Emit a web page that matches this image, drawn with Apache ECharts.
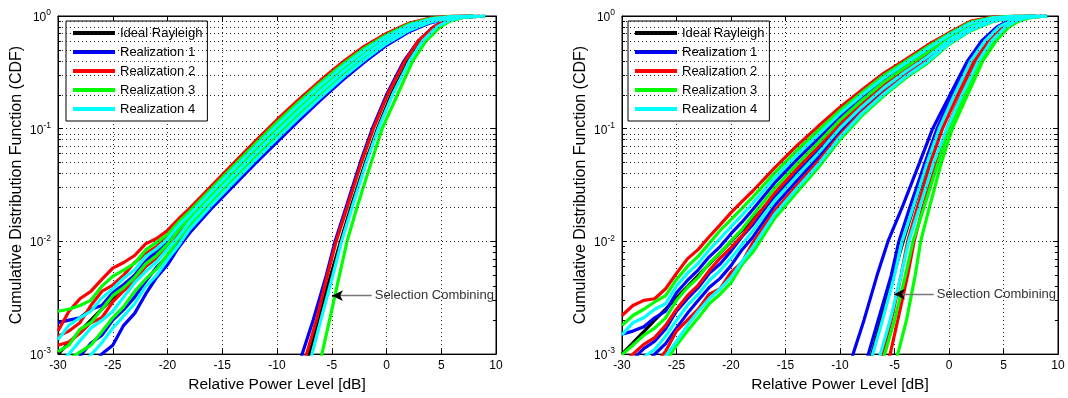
<!DOCTYPE html>
<html><head><meta charset="utf-8">
<script src="https://cdn.jsdelivr.net/npm/echarts@6/dist/echarts.min.js"></script>
<style>html,body{margin:0;padding:0;background:#fff;}#c{width:1068px;height:398px;}</style>
</head><body><div id="c"></div>
<script>
// ---------------- DATA ----------------
const seriesNames = ['Ideal Rayleigh','Realization 1','Realization 2','Realization 3','Realization 4'];
const xGrid = [-30,-29,-28,-27,-26,-25,-24,-23,-22,-21,-20,-19,-18,-16,-14,-12,-10,-8,-6,-4,-2,0,2,4,6,8];   // dB
const scLevels = [0.0005,0.001,0.002,0.005,0.01,0.02,0.05,0.1,0.2,0.4,0.6,0.8,0.9,0.97,1.0]; // CDF levels (selection combining)
const minorLevels = [0.002,0.003,0.004,0.005,0.006,0.007,0.008,0.009,0.02,0.03,0.04,0.05,0.06,0.07,0.08,0.09,0.2,0.3,0.4,0.5,0.6,0.7,0.8,0.9];

// Ideal Rayleigh (CDF at xGrid) and ideal selection combining (dB at scLevels)
const idealSingle = [0.001,0.00126,0.00158,0.002,0.00251,0.00316,0.00397,0.005,0.00629,0.00791,0.00995,0.0125,0.0157,0.0248,0.039,0.0612,0.0952,0.146,0.222,0.328,0.467,0.632,0.795,0.919,0.981,0.998];
const idealSC = [-7.9,-7.08,-6.24,-5.10,-4.20,-3.26,-1.94,-0.83,0.43,2.00,3.27,4.64,5.62,6.88,9.0];

// ---- Left panel: single-branch CDFs (values at xGrid) ----
const leftR1 = [ // blue
  [0.0019,0.0020,0.0021,0.0025,0.0027,0.0035,0.00415,0.0050,0.00663,0.0083,0.0098,0.0124,0.0164,0.0264,0.0417,0.0656,0.1023,0.1563,0.234,0.343,0.482,0.643,0.808,0.928,0.986,1.0],
  [0.0006,0.0007,0.00096,0.00125,0.00147,0.0020,0.00248,0.0032,0.0044,0.0059,0.0074,0.0096,0.0134,0.0219,0.0348,0.0548,0.0851,0.1315,0.199,0.296,0.423,0.583,0.752,0.892,0.970,1.0],
  [0.0004,0.00055,0.00065,0.00075,0.001,0.0012,0.0018,0.0023,0.0034,0.0048,0.0062,0.0088,0.0118,0.0195,0.031,0.049,0.076,0.118,0.18,0.27,0.39,0.55,0.72,0.87,0.96,1.0]
];
const leftR2 = [ // red
  [0.0016,0.0024,0.0031,0.0036,0.0046,0.0058,0.0065,0.0075,0.0095,0.0106,0.0125,0.0158,0.0195,0.031,0.049,0.077,0.12,0.182,0.27,0.39,0.54,0.70,0.86,0.96,1.0,1.0],
  [0.00145,0.0016,0.0019,0.0027,0.0036,0.0041,0.00502,0.0065,0.00774,0.0090,0.0109,0.0142,0.0176,0.0282,0.0447,0.0703,0.1094,0.1669,0.249,0.362,0.506,0.667,0.830,0.941,0.992,1.0],
  [0.0012,0.00128,0.00153,0.0019,0.0021,0.0029,0.00365,0.0044,0.00598,0.0071,0.0091,0.0117,0.0156,0.0252,0.0398,0.0628,0.0977,0.1496,0.225,0.330,0.467,0.628,0.794,0.918,0.982,1.0]
];
const leftR3 = [ // green
  [0.0024,0.0025,0.0027,0.0030,0.0040,0.0049,0.00557,0.0064,0.0084,0.0098,0.0115,0.0148,0.0184,0.0293,0.0464,0.0728,0.1135,0.1727,0.257,0.373,0.519,0.680,0.842,0.949,0.995,1.0],
  [0.00105,0.0012,0.00166,0.0019,0.0025,0.0033,0.00389,0.0048,0.0063,0.0075,0.0094,0.0125,0.016,0.0258,0.0408,0.0643,0.100,0.1531,0.230,0.337,0.474,0.635,0.801,0.923,0.984,1.0],
  [0.00065,0.0009,0.00104,0.0012,0.00158,0.0021,0.00264,0.0036,0.00462,0.0057,0.0076,0.0104,0.0137,0.0224,0.0356,0.0561,0.0871,0.1343,0.203,0.301,0.430,0.590,0.759,0.896,0.972,1.0]
];
const leftR4 = [ // cyan
  [0.00134,0.0018,0.0021,0.0024,0.00314,0.0038,0.00471,0.0056,0.00735,0.0086,0.0105,0.0138,0.0172,0.0276,0.0437,0.0687,0.1069,0.1633,0.244,0.356,0.498,0.659,0.822,0.937,0.990,1.0],
  [0.00083,0.0010,0.00131,0.0017,0.00199,0.0024,0.00321,0.0043,0.0054,0.0066,0.0085,0.0110,0.0148,0.024,0.0381,0.06,0.0933,0.1435,0.216,0.318,0.451,0.612,0.780,0.909,0.978,1.0],
  [0.00051,0.00062,0.00082,0.00098,0.00126,0.0017,0.00218,0.0028,0.00396,0.0050,0.0069,0.0092,0.0127,0.0209,0.0332,0.0524,0.0815,0.1259,0.191,0.285,0.409,0.570,0.739,0.883,0.966,1.0]
];
// ---- Left panel: selection combining (dB at scLevels) ----
const leftR1SC = [[-8.5,-7.7,-6.7,-5.5,-4.7,-3.7,-2.4,-1.3,0.0,1.6,2.9,4.3,5.3,6.6,8.5]];
const leftR2SC = [[-8.1,-7.3,-6.4,-5.4,-4.6,-3.6,-2.3,-1.2,0.1,1.7,2.9,4.3,5.3,6.6,8.5]];
const leftR3SC = [[-6.6,-5.9,-5.2,-4.3,-3.6,-2.7,-1.4,-0.4,1.0,2.4,3.6,4.9,5.8,7.0,9.0]];
const leftR4SC = [[-7.5,-6.8,-6.0,-4.9,-4.1,-3.15,-1.85,-0.75,0.55,2.1,3.3,4.6,5.6,6.8,9.0]];

// ---- Right panel: single-branch CDFs (values at xGrid) ----
const rightR1 = [ // blue
  [0.0015,0.0016,0.00175,0.0021,0.0024,0.0035,0.0045,0.0056,0.0073,0.0090,0.0117,0.0148,0.0192,0.033,0.0526,0.0814,0.127,0.188,0.270,0.366,0.492,0.661,0.848,0.951,0.991,1.0],
  [0.00073,0.0009,0.00112,0.0013,0.00167,0.0024,0.0031,0.0039,0.0052,0.0063,0.0082,0.0110,0.0141,0.0255,0.0414,0.0659,0.108,0.165,0.240,0.333,0.449,0.622,0.807,0.929,0.984,1.0],
  [0.00049,0.00058,0.00078,0.0010,0.00124,0.0017,0.0023,0.0030,0.0039,0.0047,0.0061,0.0084,0.0109,0.0207,0.0342,0.0556,0.0944,0.148,0.219,0.308,0.417,0.594,0.777,0.911,0.978,1.0]
];
const rightR2 = [ // red
  [0.0022,0.0027,0.0030,0.0031,0.0038,0.0052,0.0070,0.0085,0.011,0.0140,0.018,0.0225,0.028,0.045,0.070,0.105,0.155,0.22,0.31,0.41,0.55,0.71,0.90,0.98,1.0,1.0],
  [0.00081,0.0010,0.00122,0.0014,0.0018,0.0025,0.0033,0.0041,0.0055,0.0071,0.0088,0.0112,0.015,0.0268,0.0435,0.0687,0.111,0.169,0.246,0.339,0.457,0.630,0.816,0.933,0.985,1.0],
  [0.0004,0.0005,0.00065,0.0008,0.00106,0.0016,0.0020,0.0025,0.0034,0.0038,0.0053,0.0065,0.0097,0.0187,0.0311,0.0511,0.0883,0.141,0.209,0.296,0.402,0.580,0.762,0.902,0.975,1.0]
];
const rightR3 = [ // green
  [0.0018,0.0022,0.0025,0.0029,0.0033,0.0046,0.0060,0.0074,0.0096,0.0125,0.0156,0.0196,0.0247,0.0406,0.0637,0.0964,0.145,0.208,0.296,0.395,0.530,0.693,0.882,0.970,0.997,1.0],
  [0.00099,0.0012,0.00147,0.0017,0.0021,0.0030,0.0039,0.0048,0.0064,0.0079,0.0101,0.0128,0.0170,0.0297,0.0478,0.0748,0.119,0.178,0.258,0.352,0.474,0.645,0.832,0.942,0.988,1.0],
  [0.0003,0.0004,0.0005,0.00065,0.00085,0.0012,0.0016,0.0021,0.0028,0.0034,0.0043,0.0062,0.0080,0.016,0.027,0.045,0.080,0.13,0.195,0.28,0.38,0.56,0.74,0.89,0.97,1.0]
];
const rightR4 = [ // cyan
  [0.00148,0.0019,0.0021,0.0025,0.0028,0.0040,0.0052,0.0064,0.0084,0.0106,0.0135,0.0170,0.0218,0.0366,0.0578,0.0885,0.136,0.198,0.282,0.380,0.511,0.677,0.865,0.961,0.994,1.0],
  [0.0006,0.00078,0.00094,0.0011,0.00144,0.0020,0.0027,0.0034,0.0045,0.0055,0.0071,0.0094,0.0124,0.023,0.0377,0.0605,0.101,0.156,0.229,0.320,0.433,0.608,0.792,0.920,0.981,1.0],
  [0.00035,0.00045,0.00058,0.00075,0.00096,0.0013,0.0018,0.0024,0.0031,0.0038,0.0048,0.0066,0.0089,0.0174,0.0291,0.0481,0.0843,0.136,0.202,0.289,0.392,0.570,0.751,0.896,0.973,1.0]
];
// ---- Right panel: selection combining (dB at scLevels) ----
const rightR1SC = [
  [-9.6,-8.8,-7.8,-6.6,-5.6,-4.3,-2.7,-1.5,0.1,1.7,3.0,4.4,5.4,6.6,8.5],
  [-8.2,-7.4,-6.5,-5.3,-4.6,-3.6,-2.2,-1.1,0.3,1.9,3.1,4.5,5.5,6.7,8.5]
];
const rightR2SC = [
  [-6.8,-6.1,-5.3,-4.4,-3.8,-2.9,-1.7,-0.6,0.8,2.3,3.5,4.8,5.8,7.0,9.0],
  [-6.1,-5.4,-4.7,-3.8,-3.2,-2.4,-1.2,-0.2,1.1,2.5,3.7,5.0,6.0,7.2,9.0]
];
const rightR3SC = [
  [-6.6,-5.9,-5.0,-4.0,-3.3,-2.3,-1.0,0.0,1.4,2.8,4.0,5.3,6.2,7.4,9.0],
  [-5.4,-4.7,-3.9,-3.1,-2.6,-1.8,-0.7,0.3,1.7,3.1,4.3,5.5,6.4,7.5,9.0]
];
const rightR4SC = [
  [-7.8,-7.0,-6.1,-5.0,-4.3,-3.3,-2.0,-0.9,0.5,2.0,3.3,4.6,5.6,6.8,9.0],
  [-7.0,-6.3,-5.4,-4.4,-3.7,-2.7,-1.4,-0.2,1.2,2.7,3.9,5.2,6.1,7.2,9.0]
];

// ---------------- CHART ----------------
const FONT = '"Liberation Sans", Arial, Helvetica, sans-serif';
const COLORS = ['#000000','#0000ff','#ff0000','#00ff00','#00ffff'];
const chart = echarts.init(document.getElementById('c'), null, {renderer:'canvas'});

const grids = [
  {left:58, top:16, width:438, height:339},
  {left:622, top:16, width:436, height:339}
];
const dotted = {color:'#222', type:[1,3], width:1};

const xAxes = [], yAxes = [];
grids.forEach((g, gi) => {
  xAxes.push({gridIndex:gi, type:'value', min:-30, max:10, interval:5, position:'bottom',
    axisLine:{show:true, onZero:false, lineStyle:{color:'#000', width:1}},
    axisTick:{show:true, inside:true, length:5, lineStyle:{color:'#000'}},
    axisLabel:{color:'#000', fontSize:12, fontFamily:FONT, margin:6},
    splitLine:{show:true, lineStyle:dotted},
    name:'Relative Power Level [dB]', nameLocation:'middle', nameGap:20,
    nameTextStyle:{color:'#000', fontSize:15.5, fontFamily:FONT}});
  xAxes.push({gridIndex:gi, type:'value', min:-30, max:10, interval:5, position:'top',
    axisLine:{show:true, onZero:false, lineStyle:{color:'#000', width:1}},
    axisTick:{show:true, inside:true, length:5, lineStyle:{color:'#000'}},
    axisLabel:{show:false}, splitLine:{show:false}});
  yAxes.push({gridIndex:gi, type:'log', logBase:10, min:0.001, max:1, position:'left',
    axisLine:{show:true, onZero:false, lineStyle:{color:'#000', width:1}},
    axisTick:{show:true, inside:true, length:5, lineStyle:{color:'#000'}},
    axisLabel:{color:'#000', fontFamily:FONT, margin:7,
      formatter: v => '{b|10}{s|' + Math.round(Math.log10(v)) + '}',
      rich:{ b:{fontSize:12, fontFamily:FONT, color:'#000', verticalAlign:'bottom'},
             s:{fontSize:8.5, fontFamily:FONT, color:'#000', verticalAlign:'bottom', padding:[0,0,6,0]} }},
    splitLine:{show:true, lineStyle:dotted},
    name:'Cumulative Distribution Function (CDF)', nameLocation:'middle', nameGap:33, nameRotate:90,
    nameTextStyle:{color:'#000', fontSize:16, fontFamily:FONT}});
  yAxes.push({gridIndex:gi, type:'log', logBase:10, min:0.001, max:1, position:'right',
    axisLine:{show:true, onZero:false, lineStyle:{color:'#000', width:1}},
    axisTick:{show:true, inside:true, length:5, lineStyle:{color:'#000'}},
    axisLabel:{show:false}, splitLine:{show:false}});
});

const series = [];
const LW = 3.2;
const common = {type:'line', showSymbol:false, symbol:'none', smooth:false, animation:false,
  emphasis:{disabled:true}, silent:true, clip:true};

function helperGrid(gi) {
  const xi = gi*2, yi = gi*2;
  const minorLines = minorLevels.map(v => ({yAxis:v}));
  const tickSegs = [];
  minorLevels.forEach(v => {
    tickSegs.push([{coord:[-30, v]}, {coord:[-29.72, v]}]);
    tickSegs.push([{coord:[9.72, v]}, {coord:[10, v]}]);
  });
  series.push(Object.assign({}, common, {name:'_grid'+gi, xAxisIndex:xi, yAxisIndex:yi, data:[],
    lineStyle:{width:0},
    markLine:{silent:true, symbol:['none','none'], label:{show:false}, animation:false,
      lineStyle:dotted, data:minorLines}}));
  series.push(Object.assign({}, common, {name:'_ticks'+gi, xAxisIndex:xi, yAxisIndex:yi, data:[],
    lineStyle:{width:0},
    markLine:{silent:true, symbol:['none','none'], label:{show:false}, animation:false,
      lineStyle:{color:'#000', type:'solid', width:1}, data:tickSegs}}));
}

function addBranch(curves, ci, gi) {
  curves.forEach(c => series.push(Object.assign({}, common, {
    name:seriesNames[ci], xAxisIndex:gi*2, yAxisIndex:gi*2, color:COLORS[ci],
    lineStyle:{color:COLORS[ci], width:LW},
    data: xGrid.map((x,i) => [x, c[i]])})));
}
function addSC(curves, ci, gi) {
  curves.forEach(c => series.push(Object.assign({}, common, {
    name:seriesNames[ci], xAxisIndex:gi*2, yAxisIndex:gi*2, color:COLORS[ci],
    lineStyle:{color:COLORS[ci], width:LW},
    data: scLevels.map((p,i) => [c[i], p])})));
}
function addAnnotation(gi, textX, tipX, yv) {
  series.push(Object.assign({}, common, {name:'_annot'+gi, xAxisIndex:gi*2, yAxisIndex:gi*2, data:[],
    lineStyle:{width:0}, z:5,
    markLine:{silent:true, animation:false, symbolSize:[8,11],
      data:[
        [{coord:[textX, yv], symbol:'none',
          label:{show:true, position:'start', distance:3, formatter:'Selection Combining',
                 color:'#333', fontSize:13, fontFamily:FONT},
          lineStyle:{color:'#777', width:1.3, type:'solid'}},
         {coord:[tipX+0.7, yv], symbol:'none'}],
        [{coord:[tipX+0.7, yv], symbol:'none', label:{show:false},
          lineStyle:{color:'#000', width:1.3, type:'solid'}},
         {coord:[tipX, yv], symbol:'arrow'}]
      ]}}));
}

const panels = [
  {branch:[leftR1,leftR2,leftR3,leftR4], sc:[leftR1SC,leftR2SC,leftR3SC,leftR4SC], ann:[-1.35,-4.98,0.0033]},
  {branch:[rightR1,rightR2,rightR3,rightR4], sc:[rightR1SC,rightR2SC,rightR3SC,rightR4SC], ann:[-1.4,-5.05,0.0034]}
];
panels.forEach((p, gi) => {
  helperGrid(gi);
  addBranch([idealSingle], 0, gi);
  addSC([idealSC], 0, gi);
  for (let k = 0; k < 4; k++) {
    addBranch(p.branch[k], k+1, gi);
    addSC(p.sc[k], k+1, gi);
  }
  addAnnotation(gi, p.ann[0], p.ann[1], p.ann[2]);
});

const legendBase = {orient:'vertical', top:21, itemWidth:42, itemHeight:4, itemGap:5,
  padding:[5,5,5,7], backgroundColor:'#fff', borderColor:'#000', borderWidth:1, borderRadius:0,
  selectedMode:false, icon:'rect',
  textStyle:{color:'#000', fontSize:13, fontFamily:FONT, lineHeight:14},
  data: seriesNames.map(n => ({name:n, icon:'rect'}))};

chart.setOption({
  animation:false,
  backgroundColor:'#fff',
  grid: grids.map(g => Object.assign({show:true, borderColor:'#000', borderWidth:1, backgroundColor:'#fff'}, g)),
  xAxis: xAxes,
  yAxis: yAxes,
  legend: [Object.assign({left:66}, legendBase), Object.assign({left:628}, legendBase)],
  series: series
});
</script>
</body></html>
